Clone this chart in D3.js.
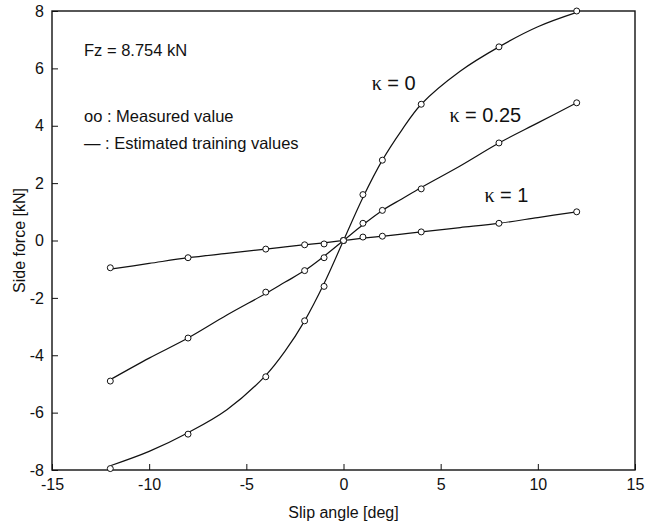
<!DOCTYPE html>
<html>
<head>
<meta charset="utf-8">
<script src="https://cdn.jsdelivr.net/npm/d3@7"></script>
<style>
  body { margin: 0; background: #fff; }
  text { font-family: "Liberation Sans", Arial, sans-serif; fill: #111; }
</style>
</head>
<body>
<div id="chart"></div>
<script>
//size
const W = 649, H = 525;
const margin = { top: 11, right: 14, bottom: 55, left: 52 },
  width = W - margin.left - margin.right,
  height = H - margin.top - margin.bottom;

//measured points
const measX = [-12, -8, -4, -2, -1, 0, 1, 2, 4, 8, 12];
const meas0 = [-7.95, -6.75, -4.75, -2.8, -1.6, 0, 1.6, 2.8, 4.75, 6.75, 8.0];
const meas025 = [-4.9, -3.4, -1.8, -1.05, -0.6, 0, 0.6, 1.05, 1.8, 3.4, 4.8];
const meas1 = [-0.95, -0.6, -0.3, -0.15, -0.12, 0, 0.12, 0.15, 0.3, 0.6, 1.0];

//estimated curves
const lineX = [-12, -10, -8, -6, -4, -3, -2, -1, 0, 1, 2, 3, 4, 6, 8, 10, 12];
const line0 = [-7.85, -7.35, -6.7, -5.9, -4.7, -3.85, -2.8, -1.5, 0, 1.5, 2.8, 3.85, 4.75, 5.9, 6.75, 7.45, 7.95];
const line025 = [-4.85, -4.1, -3.4, -2.6, -1.85, -1.45, -1.05, -0.55, 0, 0.55, 1.05, 1.45, 1.85, 2.6, 3.4, 4.1, 4.8];
const line1 = [-1.0, -0.8, -0.6, -0.45, -0.3, -0.22, -0.15, -0.08, 0, 0.08, 0.15, 0.22, 0.3, 0.45, 0.6, 0.8, 1.0];

const xTicks = [-15, -10, -5, 0, 5, 10, 15];
const yTicks = [-8, -6, -4, -2, 0, 2, 4, 6, 8];

//kappa labels: [value text, x, y] in data coords
const kLabels = [["0", 1.45, 5.25], ["0.25", 5.45, 4.12], ["1", 7.25, 1.34]];

const svg = d3.select("#chart").append("svg")
  .attr("width", W).attr("height", H);
const g = svg.append("g")
  .attr("transform", "translate(" + margin.left + "," + margin.top + ")");

const x = d3.scaleLinear().domain([-15, 15]).range([0, width]);
const y = d3.scaleLinear().domain([-8, 8]).range([height, 0]);

//axes, ticks inward, plain hyphen minus like the original
const fmt = d => String(d);
const xAxis = g.append("g")
  .attr("transform", "translate(0," + height + ")")
  .call(d3.axisBottom(x).tickValues(xTicks).tickFormat(fmt).tickSizeInner(-6).tickSizeOuter(0).tickPadding(9));
const yAxis = g.append("g")
  .call(d3.axisLeft(y).tickValues(yTicks).tickFormat(fmt).tickSizeInner(-6).tickSizeOuter(0).tickPadding(8));
[xAxis, yAxis].forEach(a => {
  a.select(".domain").remove();
  a.selectAll(".tick line").attr("stroke", "#111").attr("stroke-width", 1);
  a.selectAll(".tick text").style("font-size", "16px").style("font-family", '"Liberation Sans", Arial, sans-serif').attr("fill", "#111");
});

//box
g.append("rect")
  .attr("width", width).attr("height", height)
  .attr("fill", "none").attr("stroke", "#111").attr("stroke-width", 1.4);

//curves
const line = d3.line().x(d => x(d[0])).y(d => y(d[1])).curve(d3.curveCatmullRom);
[line0, line025, line1].forEach(vals => {
  g.append("path")
    .datum(lineX.map((v, i) => [v, vals[i]]))
    .attr("d", line)
    .attr("fill", "none").attr("stroke", "#111").attr("stroke-width", 1.2);
});

//measured circles
[meas0, meas025, meas1].forEach(vals => {
  g.append("g").selectAll("circle")
    .data(measX.map((v, i) => [v, vals[i]]))
    .enter().append("circle")
    .attr("cx", d => x(d[0])).attr("cy", d => y(d[1]))
    .attr("r", 3)
    .attr("fill", "#fff").attr("stroke", "#111").attr("stroke-width", 1);
});

//kappa labels
kLabels.forEach(k => {
  const t = g.append("text")
    .attr("x", x(k[1])).attr("y", y(k[2]))
    .style("font-size", "20px");
  t.append("tspan").style("font-family", '"Liberation Serif", "Times New Roman", serif').text("κ");
  t.append("tspan").text(" = " + k[0]);
});

//annotations
svg.append("text").attr("x", 84).attr("y", 56).style("font-size", "16.5px").text("Fz = 8.754 kN");
svg.append("text").attr("x", 84).attr("y", 122).style("font-size", "16.5px").text("oo : Measured value");
svg.append("text").attr("x", 84).attr("y", 149).style("font-size", "16.5px").text("— : Estimated training values");

//axis titles
svg.append("text")
  .attr("x", margin.left + width / 2).attr("y", 518)
  .attr("text-anchor", "middle").style("font-size", "16px")
  .text("Slip angle [deg]");
svg.append("text")
  .attr("transform", "translate(25," + (margin.top + height / 2) + ") rotate(-90)")
  .attr("text-anchor", "middle").style("font-size", "16px")
  .text("Side force [kN]");
</script>
</body>
</html>
